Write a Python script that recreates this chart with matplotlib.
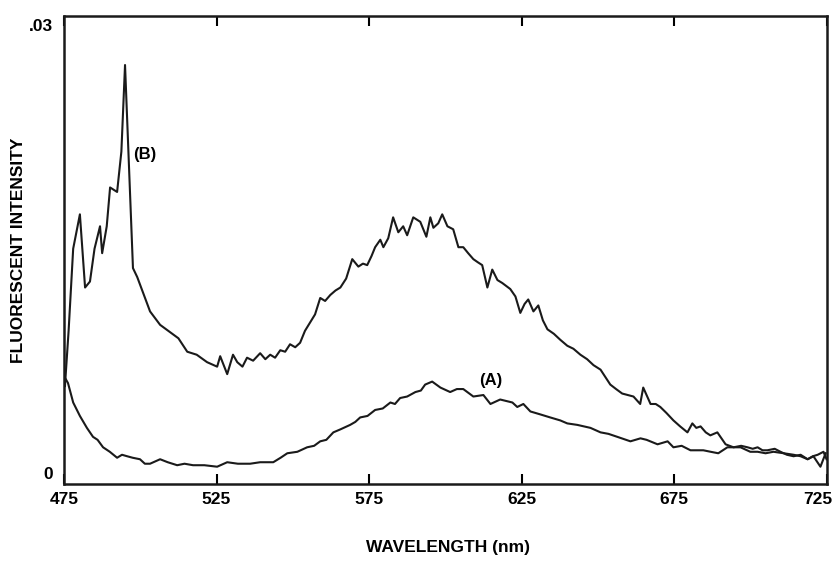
import matplotlib
matplotlib.use("Agg")
import matplotlib.pyplot as plt
import matplotlib.transforms as mtransforms

plt.rcParams['font.family'] = ['Liberation Sans', 'DejaVu Sans']

# Curve B (upper)
wl_b = [475.3, 476.5, 478.0, 480.2, 481.9, 483.5, 485.0, 486.8, 487.5, 489.0, 490.1, 492.4, 493.8,
        495.0, 497.6, 499.0, 501.0, 503.2, 506.5, 509.8, 512.5, 515.4, 518.5, 521.9, 525.2, 526.2,
        528.5, 530.4, 531.8, 533.5, 535.0, 537.0, 539.3, 541.0, 542.6, 544.2, 545.9, 547.5, 549.1,
        550.8, 552.4, 554.0, 555.8, 557.3, 559.0, 560.6, 562.3, 564.0, 565.6, 567.5, 569.5, 571.5,
        573.0, 574.4, 575.8, 577.0, 578.7, 579.7, 581.3, 582.9, 584.6, 586.2, 587.5, 589.5, 591.8,
        593.8, 595.1, 596.1, 597.7, 599.0, 600.7, 602.6, 604.3, 605.9, 607.5, 609.2, 610.6, 612.1,
        613.8, 615.4, 617.1, 618.7, 620.0, 621.3, 623.0, 624.6, 626.0, 627.2, 628.9, 630.5, 632.0,
        633.5, 635.6, 637.7, 640.0, 642.0, 644.3, 646.5, 648.6, 650.9, 652.5, 654.1, 656.0, 658.0,
        659.8, 661.7, 663.9, 664.9, 667.3, 669.0, 670.5, 672.5, 674.8, 677.0, 679.4, 681.0, 682.3,
        683.7, 685.4, 686.9, 689.2, 691.9, 694.5, 697.0, 699.1, 700.8, 702.4, 704.0, 705.6, 708.0,
        709.9, 712.0, 714.2, 716.5, 718.8, 720.7, 722.0, 723.0, 724.7]
int_b = [0.0058, 0.0095, 0.0150, 0.0173, 0.0124, 0.0128, 0.0150, 0.0165, 0.0147, 0.0165, 0.0191, 0.0188,
         0.0215, 0.0273, 0.0137, 0.0131, 0.0120, 0.0108, 0.0099, 0.0094, 0.0090, 0.0081, 0.0079, 0.0074,
         0.0071, 0.0078, 0.0066, 0.0079, 0.0074, 0.0071, 0.0077, 0.0075, 0.0080, 0.0076, 0.0079, 0.0077,
         0.0082, 0.0081, 0.0086, 0.0084, 0.0087, 0.0095, 0.0101, 0.0106, 0.0117, 0.0115, 0.0119, 0.0122,
         0.0124, 0.0130, 0.0143, 0.0138, 0.0140, 0.0139, 0.0145, 0.0151, 0.0156, 0.0151, 0.0157, 0.0171,
         0.0161, 0.0165, 0.0159, 0.0171, 0.0168, 0.0158, 0.0171, 0.0164, 0.0167, 0.0173, 0.0165, 0.0163,
         0.0151, 0.0151, 0.0147, 0.0143, 0.0141, 0.0139, 0.0124, 0.0136, 0.0129, 0.0127, 0.0125, 0.0123,
         0.0118, 0.0107, 0.0113, 0.0116, 0.0108, 0.0112, 0.0102, 0.0096, 0.0093, 0.0089, 0.0085, 0.0083,
         0.0079, 0.0076, 0.0072, 0.0069, 0.0064, 0.0059, 0.0056, 0.0053, 0.0052, 0.0051, 0.0046, 0.0057,
         0.0046, 0.0046, 0.0044, 0.0040, 0.0035, 0.0031, 0.0027, 0.0033, 0.0030, 0.0031, 0.0027, 0.0025,
         0.0027, 0.0019, 0.0017, 0.0018, 0.0017, 0.0016, 0.0017, 0.0015, 0.0015, 0.0016, 0.0014, 0.0012,
         0.0011, 0.0012, 0.0009, 0.0011, 0.0007, 0.0004, 0.0013]

# Curve A (lower)
wl_a = [475.2, 476.3, 478.0, 480.2, 482.5, 484.5, 486.0, 487.8, 490.0, 492.4, 494.0, 495.7, 497.5,
        499.9, 501.5, 503.2, 506.5, 509.0, 512.1, 514.5, 517.3, 521.0, 525.2, 528.5, 532.0, 536.0,
        539.3, 543.6, 546.0, 548.2, 551.5, 554.7, 557.0, 559.0, 561.0, 563.3, 565.6, 568.8, 570.5,
        572.1, 574.5, 577.0, 579.5, 582.0, 583.5, 585.2, 587.5, 590.2, 592.0, 593.4, 595.7, 598.4,
        601.6, 603.8, 605.9, 609.2, 612.5, 614.8, 618.0, 622.0, 623.6, 625.6, 627.9, 631.2, 634.4,
        637.7, 640.0, 643.3, 647.6, 650.9, 653.5, 656.4, 660.7, 664.0, 666.0, 669.6, 672.9, 674.8,
        677.5, 680.4, 684.6, 687.0, 689.5, 692.5, 696.8, 700.0, 702.4, 705.0, 707.6, 711.0, 714.2,
        716.5, 718.8, 720.5, 722.1, 724.0, 725.0]
int_a = [0.0064, 0.0060, 0.0047, 0.0038, 0.0030, 0.0024, 0.0022, 0.0017, 0.0014, 0.0010, 0.0012, 0.0011,
         0.0010, 0.0009, 0.0006, 0.0006, 0.0009, 0.0007, 0.0005, 0.0006, 0.0005, 0.0005, 0.0004, 0.0007,
         0.0006, 0.0006, 0.0007, 0.0007, 0.0010, 0.0013, 0.0014, 0.0017, 0.0018, 0.0021, 0.0022, 0.0027,
         0.0029, 0.0032, 0.0034, 0.0037, 0.0038, 0.0042, 0.0043, 0.0047, 0.0046, 0.0050, 0.0051, 0.0054,
         0.0055, 0.0059, 0.0061, 0.0057, 0.0054, 0.0056, 0.0056, 0.0051, 0.0052, 0.0046, 0.0049, 0.0047,
         0.0044, 0.0046, 0.0041, 0.0039, 0.0037, 0.0035, 0.0033, 0.0032, 0.0030, 0.0027, 0.0026, 0.0024,
         0.0021, 0.0023, 0.0022, 0.0019, 0.0021, 0.0017, 0.0018, 0.0015, 0.0015, 0.0014, 0.0013, 0.0017,
         0.0017, 0.0014, 0.0014, 0.0013, 0.0014, 0.0013, 0.0012, 0.0011, 0.0009, 0.0011, 0.0012, 0.0014,
         0.0009]

x_ticks = [475, 525, 575, 625, 675, 725]
x_tick_labels = ["475", "525", "575", "625", "675", "725"]
y_ticks = [0, 0.03]
y_tick_labels = ["0", ".03"]

fig = plt.figure(figsize=(8.37, 5.62), dpi=100)
ax = fig.add_axes([0.0765, 0.139, 0.911, 0.833])

ax.plot(wl_b, int_b, color="#1a1a1a", lw=1.5)
ax.plot(wl_a, int_a, color="#1a1a1a", lw=1.5)

ax.set_xlim(475, 725)
ax.set_ylim(-0.00075, 0.0306)

ax.set_xticks(x_ticks)
ax.set_xticklabels(x_tick_labels, fontsize=12.5, fontweight="bold")
ax.set_yticks(y_ticks)
ax.set_yticklabels(y_tick_labels, fontsize=12.5, fontweight="bold")
ax.tick_params(axis="x", direction="in", top=True, length=7, width=1.5, pad=6)
ax.tick_params(axis="y", length=0, pad=8)

# nudge the last x tick label left so it stays inside the figure
last = ax.get_xticklabels()[-1]
last.set_transform(last.get_transform() + mtransforms.ScaledTranslation(-9 / 100, 0, fig.dpi_scale_trans))

for s in ax.spines.values():
    s.set_linewidth(1.8)
    s.set_color("#1a1a1a")

ax.text(497.5, 0.0213, "(B)", fontsize=12, fontweight="bold", ha="left", va="center")
ax.text(615.0, 0.0062, "(A)", fontsize=12, fontweight="bold", ha="center", va="center")

fig.text(0.535, 0.025, "WAVELENGTH (nm)", fontsize=12.5, fontweight="bold", ha="center", va="center")
fig.text(0.022, 0.555, "FLUORESCENT INTENSITY", fontsize=12.5, fontweight="bold",
         ha="center", va="center", rotation=90)

fig.savefig("out.png", dpi=100, facecolor="white")
